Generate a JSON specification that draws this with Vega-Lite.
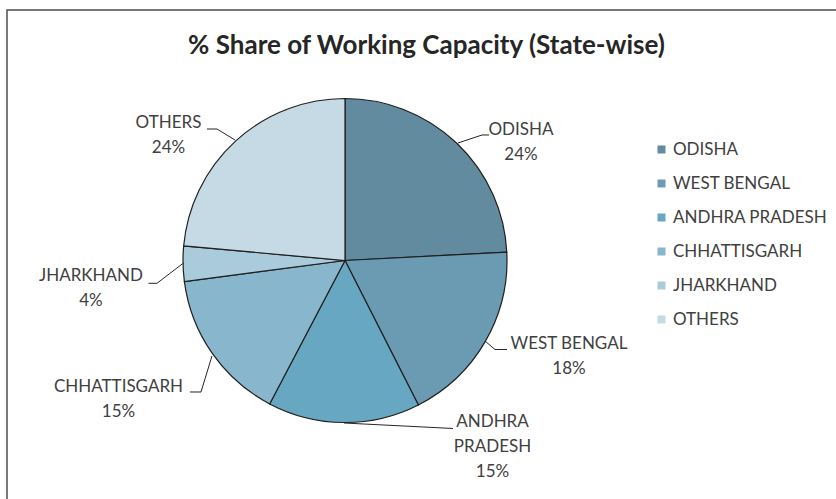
{
  "$schema": "https://vega.github.io/schema/vega-lite/v6.json",
  "autosize": {"type": "none"},
  "width": 835,
  "height": 495,
  "padding": {"left": 7, "top": 10, "right": 0, "bottom": 0},
  "background": "white",
  "config": {
    "view": {"stroke": "#4d4d4d", "strokeWidth": 1.5},
    "font": "Lato"
  },
  "title": {
    "text": "% Share of Working Capacity (State-wise)",
    "font": "Lato",
    "fontSize": 26,
    "fontWeight": "bold",
    "color": "#262626",
    "anchor": "middle",
    "frame": "group",
    "dy": 53,
    "dx": 2
  },
  "datasets": {
    "shares": [
      {"state": "ODISHA", "share": 24.18, "ord": 1},
      {"state": "WEST BENGAL", "share": 18.34, "ord": 2},
      {"state": "ANDHRA PRADESH", "share": 15.18, "ord": 3},
      {"state": "CHHATTISGARH", "share": 15.22, "ord": 4},
      {"state": "JHARKHAND", "share": 3.52, "ord": 5},
      {"state": "OTHERS", "share": 23.56, "ord": 6}
    ],
    "labels": [
      {"state": "ODISHA", "label": "ODISHA\n24%", "ax": 1.0864, "ay": 0.8056},
      {"state": "WEST BENGAL", "label": "WEST BENGAL\n18%", "ax": 1.3827, "ay": -0.5154},
      {"state": "ANDHRA PRADESH", "label": "ANDHRA\nPRADESH\n15%", "ax": 0.9105, "ay": -0.9951},
      {"state": "CHHATTISGARH", "label": "CHHATTISGARH\n15%", "ax": -1.3981, "ay": -0.779},
      {"state": "JHARKHAND", "label": "JHARKHAND\n4%", "ax": -1.5679, "ay": -0.0957},
      {"state": "OTHERS", "label": "OTHERS\n24%", "ax": -1.0895, "ay": 0.8488}
    ],
    "leaders": [
      {"state": "ODISHA", "i": 1, "lx": 0.6975, "ly": 0.7253},
      {"state": "ODISHA", "i": 2, "lx": 0.8457, "ly": 0.7747},
      {"state": "ODISHA", "i": 3, "lx": 0.8889, "ly": 0.7747},
      {"state": "OTHERS", "i": 1, "lx": -0.679, "ly": 0.7438},
      {"state": "OTHERS", "i": 2, "lx": -0.7901, "ly": 0.8117},
      {"state": "OTHERS", "i": 3, "lx": -0.8519, "ly": 0.8117},
      {"state": "JHARKHAND", "i": 1, "lx": -0.9969, "ly": -0.0154},
      {"state": "JHARKHAND", "i": 2, "lx": -1.1605, "ly": -0.1407},
      {"state": "JHARKHAND", "i": 3, "lx": -1.213, "ly": -0.1407},
      {"state": "CHHATTISGARH", "i": 1, "lx": -0.821, "ly": -0.5895},
      {"state": "CHHATTISGARH", "i": 2, "lx": -0.8889, "ly": -0.8117},
      {"state": "CHHATTISGARH", "i": 3, "lx": -0.9568, "ly": -0.8117},
      {"state": "WEST BENGAL", "i": 1, "lx": 0.8642, "ly": -0.4969},
      {"state": "WEST BENGAL", "i": 2, "lx": 0.9259, "ly": -0.5494},
      {"state": "WEST BENGAL", "i": 3, "lx": 1.0, "ly": -0.5494},
      {"state": "ANDHRA PRADESH", "i": 1, "lx": -0.0062, "ly": -1.0031},
      {"state": "ANDHRA PRADESH", "i": 2, "lx": 0.6667, "ly": -1.037}
    ]
  },
  "layer": [
    {
      "data": {"name": "shares"},
      "mark": {"type": "arc", "outerRadius": 162, "stroke": "#1f1f1f", "strokeWidth": 1.2},
      "encoding": {
        "theta": {"field": "share", "type": "quantitative", "stack": true},
        "order": {"field": "ord", "type": "quantitative"},
        "color": {
          "field": "state",
          "type": "nominal",
          "scale": {
            "domain": ["ODISHA", "WEST BENGAL", "ANDHRA PRADESH", "CHHATTISGARH", "JHARKHAND", "OTHERS"],
            "range": ["#638b9f", "#6a9bb3", "#68a7c2", "#88b6cd", "#a9cbdb", "#c6dae5"]
          },
          "legend": {
            "title": null,
            "orient": "none",
            "legendX": 646,
            "legendY": 131,
            "symbolType": "square",
            "symbolSize": 64,
            "symbolStrokeWidth": 0,
            "labelFont": "Lato",
            "labelFontSize": 17,
            "labelColor": "#404040",
            "rowPadding": 16,
            "labelOffset": 3,
            "padding": 0
          }
        },
        "x": {"datum": 0, "type": "quantitative", "scale": {"domain": [-2.08642, 3.0679], "nice": false, "zero": false}, "axis": null},
        "y": {"datum": 0, "type": "quantitative", "scale": {"domain": [-1.50926, 1.5463], "nice": false, "zero": false}, "axis": null}
      }
    },
    {
      "data": {"name": "leaders"},
      "mark": {"type": "line", "color": "#262626", "strokeWidth": 1},
      "encoding": {
        "x": {"field": "lx", "type": "quantitative", "scale": {"domain": [-2.08642, 3.0679], "nice": false, "zero": false}, "axis": null},
        "y": {"field": "ly", "type": "quantitative", "scale": {"domain": [-1.50926, 1.5463], "nice": false, "zero": false}, "axis": null},
        "detail": {"field": "state", "type": "nominal"},
        "order": {"field": "i", "type": "quantitative"}
      }
    },
    {
      "data": {"name": "labels"},
      "mark": {"type": "text", "lineBreak": "\n", "font": "Lato", "fontSize": 17, "color": "#404040", "lineHeight": 25, "align": "center", "baseline": "middle"},
      "encoding": {
        "x": {"field": "ax", "type": "quantitative", "scale": {"domain": [-2.08642, 3.0679], "nice": false, "zero": false}, "axis": null},
        "y": {"field": "ay", "type": "quantitative", "scale": {"domain": [-1.50926, 1.5463], "nice": false, "zero": false}, "axis": null},
        "text": {"field": "label", "type": "nominal"}
      }
    }
  ]
}
